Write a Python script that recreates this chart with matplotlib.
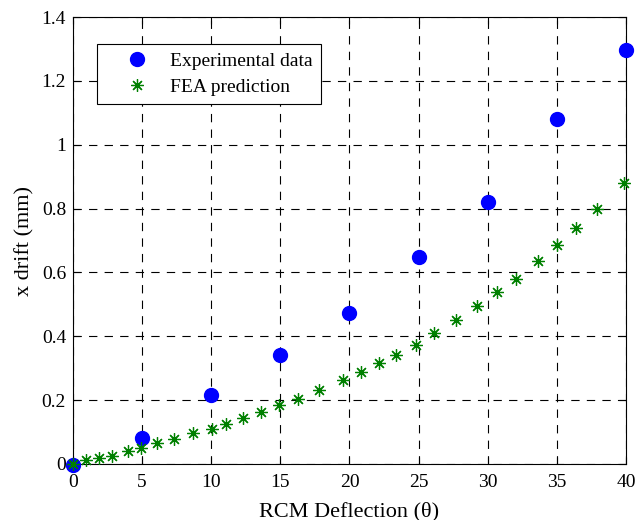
import numpy as np
import matplotlib.pyplot as plt

plt.rcParams['font.family'] = ['Liberation Serif', 'DejaVu Serif']

# experimental data
exp_x = [0, 5, 10, 15, 20, 25, 30, 35, 40]
exp_y = [-0.004, 0.081, 0.216, 0.341, 0.473, 0.648, 0.821, 1.080, 1.297]

# FEA prediction
fea_x = [0, 0.94, 1.88, 2.82, 3.98, 4.92, 6.08, 7.31, 8.68, 10.05, 11.07, 12.30,
         13.60, 14.90, 16.27, 17.79, 19.53, 20.83, 22.13, 23.36, 24.81, 26.11,
         27.70, 29.22, 30.67, 32.04, 33.64, 35.01, 36.38, 37.90, 39.86]
fea_y = [0, 0.0125, 0.019, 0.025, 0.041, 0.050, 0.066, 0.078, 0.097, 0.110, 0.125,
         0.144, 0.163, 0.185, 0.204, 0.232, 0.262, 0.288, 0.316, 0.341, 0.373,
         0.410, 0.451, 0.495, 0.539, 0.579, 0.636, 0.686, 0.739, 0.799, 0.880]

fig = plt.figure(figsize=(6.38, 5.2), dpi=100)
ax = fig.add_axes([0.1144, 0.1077, 0.8668, 0.8596])

ax.plot(exp_x, exp_y, 'o', color='blue', markersize=10, label='Experimental data',
        zorder=3, clip_on=False)
ax.plot(fea_x, fea_y, linestyle='none', marker=(8, 2, 0), color='#008000',
        markersize=9, markeredgewidth=0.9, label='FEA prediction', zorder=3,
        clip_on=False)

ax.set_xlim(0, 40)
ax.set_ylim(0, 1.4)
ax.set_xticks(np.arange(0, 41, 5))
ax.set_yticks(np.arange(0, 1.41, 0.2))
ax.set_yticklabels(['0', '0.2', '0.4', '0.6', '0.8', '1', '1.2', '1.4'])
ax.tick_params(direction='in', labelsize=14, length=5, top=True, right=True, pad=5)
ax.tick_params(axis='x', pad=7)
ax.grid(True, color='black', linestyle=(0, (7.5, 6.5)), linewidth=0.8)
for s in ax.spines.values():
    s.set_linewidth(0.8)

ax.set_xlabel('RCM Deflection (\u03b8)', fontsize=16, labelpad=8)
ax.set_ylabel('x drift (mm)', fontsize=16, labelpad=5)

leg = ax.legend(loc='upper left', bbox_to_anchor=(0.0434, 0.9396), fontsize=14,
                fancybox=False, edgecolor='black', framealpha=1,
                borderpad=0.42, handlelength=3.3, handletextpad=0.05,
                labelspacing=0.45, borderaxespad=0)
leg.get_frame().set_linewidth(0.8)

fig.savefig('out.png', dpi=100)
